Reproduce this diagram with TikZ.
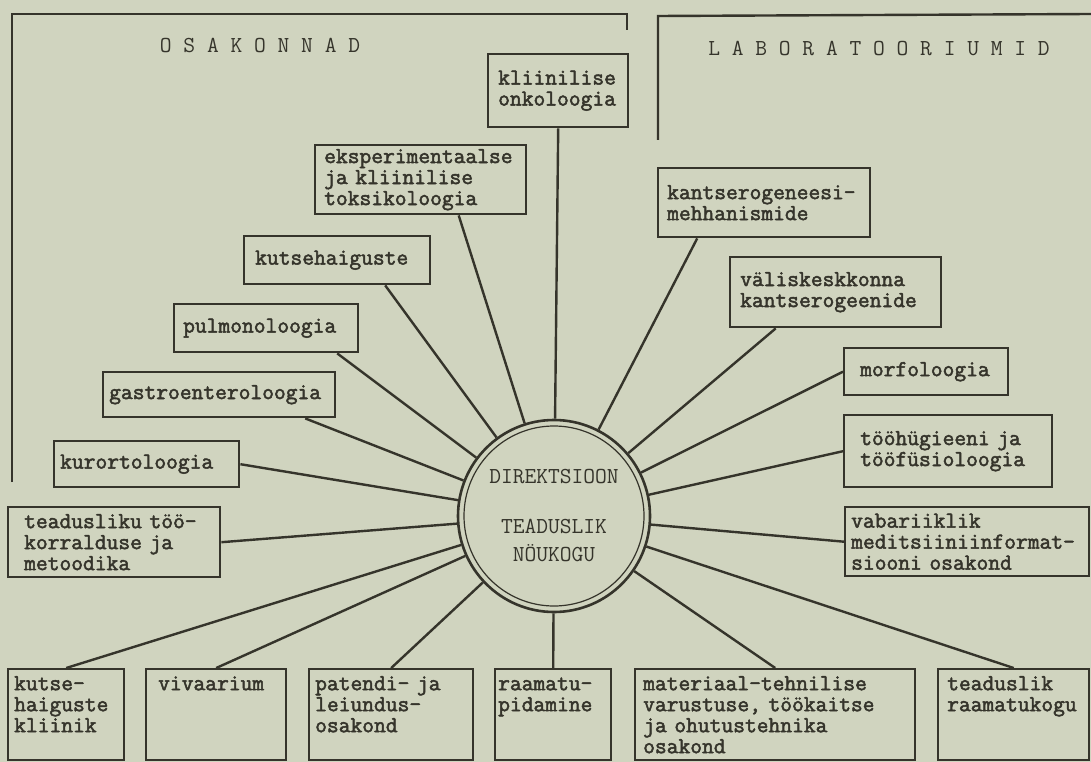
\documentclass[tikz,border=0pt]{standalone}
\usepackage{fontspec}
\newfontfamily\typefont{Latin Modern Mono}[AutoFakeBold=2.2]
\definecolor{paper}{HTML}{D0D4BF}
\definecolor{ink}{HTML}{35342B}
\tikzset{
  dept/.style={draw=ink, line width=2.4pt, rectangle, anchor=north west, align=left,
    inner xsep=6pt, inner ysep=3pt, text=ink,
    font=\typefont\bfseries\fontsize{22.86}{21}\selectfont},
  low/.style={text height=18pt, text depth=67pt},
  spoke/.style={draw=ink, line width=2.4pt},
  frame/.style={draw=ink, line width=2.4pt},
  head/.style={text=ink, font=\typefont\fontsize{22.86}{20}\selectfont}
}
\begin{document}
\begin{tikzpicture}[x=1pt, y=-1pt]
\useasboundingbox (0,0) rectangle (1091,762);
\fill[paper] (0,0) rectangle (1091,762);
\draw[frame] (12,482) -- (12,14) -- (627,14) -- (627,30);
\draw[frame] (658,140) -- (658,16) -- (1091,14);
\node[head] (osak) at (260,45) {O S A K O N N A D};
\node[head] (labor) at (879,48) {L A B O R A T O O R I U M I D};
\node[circle, draw=ink, line width=2.6pt, minimum size=192pt, inner sep=0pt, align=center, text=ink,
  font=\typefont\fontsize{22.86}{28}\selectfont] (dir) at (554,516) {DIREKTSIOON\\[22pt]TEADUSLIK\\NÖUKOGU};
\draw[ink, line width=1.2pt] (dir.center) circle (90pt);
\node[dept, inner xsep=10pt, text width=120pt, minimum height=73pt] (klin) at (487,53) {kliinilise\\onkoloogia};
\node[dept, inner xsep=9pt, text width=193pt, minimum height=69pt] (eksp) at (314,144) {eksperimentaalse\\ja kliinilise\\toksikoloogia};
\node[dept, inner xsep=11pt, text width=164pt, minimum height=48pt] (kutse) at (243,235) {kutsehaiguste};
\node[dept, inner xsep=9pt, text width=166pt, minimum height=48pt] (pulmo) at (173,303) {pulmonoloogia};
\node[dept, text width=220pt, minimum height=45pt] (gastro) at (102,371) {gastroenteroloogia};
\node[dept, text width=173pt, minimum height=46pt] (kurort) at (53,440) {kurortoloogia};
\node[dept, inner xsep=16pt, text width=180pt, minimum height=70pt] (teadm) at (7,506) {teadusliku töö-\\korralduse ja\\metoodika};
\node[dept, low, text width=104pt] (klinik) at (7,668) {kutse-\\haiguste\\kliinik};
\node[dept, low, inner xsep=12pt, text width=116pt] (vivaa) at (145,668) {vivaarium};
\node[dept, low, text width=152pt] (patent) at (308,668) {patendi- ja\\leiundus-\\osakond};
\node[dept, low, inner xsep=3pt, text width=110pt] (raamat) at (494,668) {raamatu-\\pidamine};
\node[dept, low, inner xsep=8pt, text width=264pt] (mater) at (634,668) {materiaal-tehnilise\\varustuse, töökaitse\\ja ohutustehnika\\osakond};
\node[dept, low, inner xsep=9pt, text width=133pt] (rkogu) at (937,668) {teaduslik\\raamatukogu};
\node[dept, text width=232pt, minimum height=69pt] (vabar) at (844,506) {vabariiklik\\meditsiiniinformat-\\siooni osakond};
\node[dept, inner xsep=16pt, text width=176pt, minimum height=72pt] (tooh) at (843,414) {tööhügieeni ja\\tööfüsioloogia};
\node[dept, inner xsep=16pt, text width=132pt, minimum height=47pt] (morfo) at (843,347) {morfoloogia};
\node[dept, inner xsep=10pt, text width=191pt, minimum height=70pt] (valis) at (729,256) {väliskeskkonna\\kantserogeenide};
\node[dept, inner xsep=9pt, text width=194pt, minimum height=69pt] (kants) at (657,167) {kantserogeneesi-\\mehhanismide};
\draw[spoke] (klin.south) -- (dir);
\draw[spoke] ([xshift=38pt]eksp.south) -- (dir);
\draw[spoke] ([xshift=48pt]kutse.south) -- (dir);
\draw[spoke] ([xshift=71pt]pulmo.south) -- (dir);
\draw[spoke] ([xshift=86pt]gastro.south) -- (dir);
\draw[spoke] (kurort.east) -- (dir);
\draw[spoke] (teadm.east) -- (dir);
\draw[spoke] (klinik.north) -- (dir);
\draw[spoke] (vivaa.north) -- (dir);
\draw[spoke] (patent.north) -- (dir);
\draw[spoke] (raamat.north) -- (dir);
\draw[spoke] (mater.north) -- (dir);
\draw[spoke] (rkogu.north) -- (dir);
\draw[spoke] (vabar.west) -- (dir);
\draw[spoke] (tooh.west) -- (dir);
\draw[spoke] (morfo.west) -- (dir);
\draw[spoke] ([xshift=-60pt]valis.south) -- (dir);
\draw[spoke] ([xshift=-67pt]kants.south) -- (dir);
\end{tikzpicture}
\end{document}
